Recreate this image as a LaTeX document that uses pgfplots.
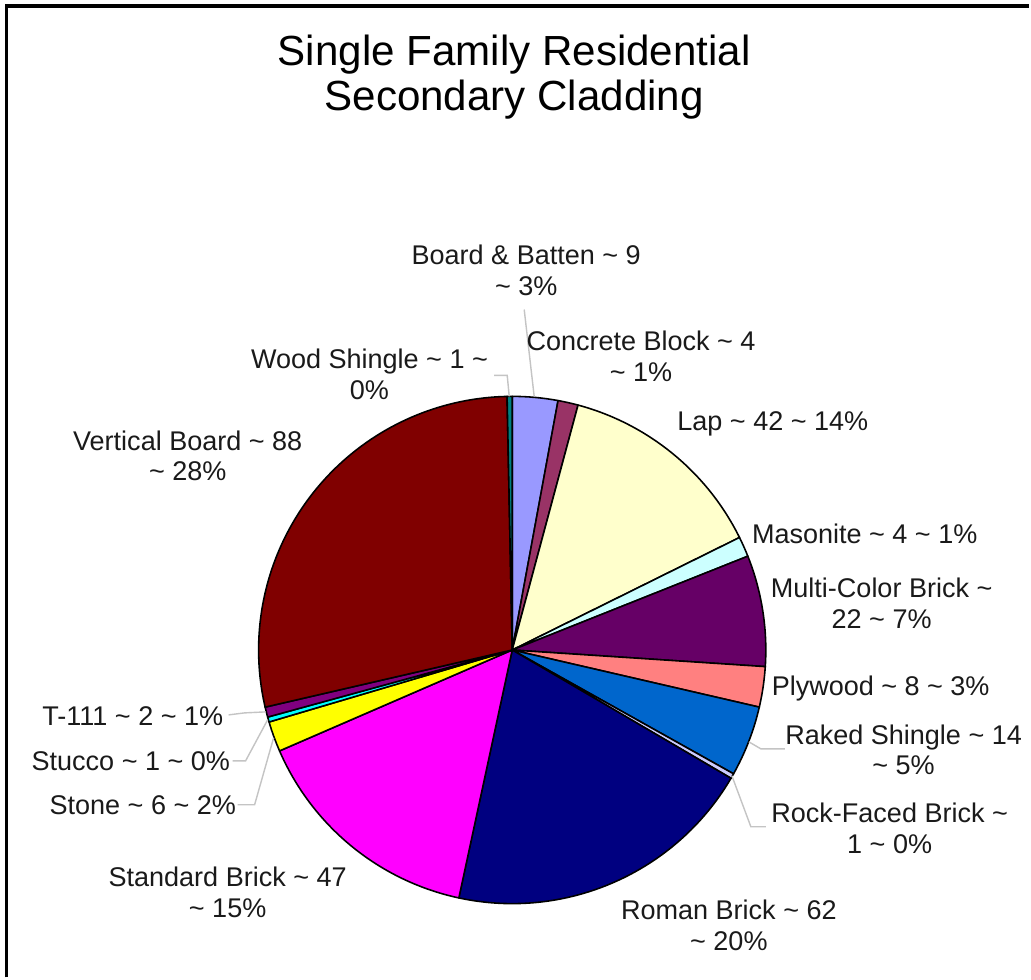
\documentclass[border=0pt]{standalone}
\usepackage{fontspec}
\setmainfont{Liberation Sans}
\usepackage{pgfplots}
\usepackage{pgfplotstable}
\pgfplotsset{compat=1.18}

% Excel 2003 series palette
\definecolor{bb}{HTML}{9999FF}
\definecolor{cb}{HTML}{993366}
\definecolor{lap}{HTML}{FFFFCC}
\definecolor{mas}{HTML}{CCFFFF}
\definecolor{mcb}{HTML}{660066}
\definecolor{ply}{HTML}{FF8080}
\definecolor{rks}{HTML}{0066CC}
\definecolor{rfb}{HTML}{CCCCFF}
\definecolor{rom}{HTML}{000080}
\definecolor{std}{HTML}{FF00FF}
\definecolor{stn}{HTML}{FFFF00}
\definecolor{stu}{HTML}{00FFFF}
\definecolor{tee}{HTML}{800080}
\definecolor{vb}{HTML}{800000}
\definecolor{ws}{HTML}{008080}
\definecolor{leader}{HTML}{C4C4C4}
\definecolor{txt}{HTML}{1A1A1A}

% slices, clockwise from 12 o'clock
\pgfplotstableread{
name       value col
Board      9     bb
Concrete   4     cb
Lap        42    lap
Masonite   4     mas
MultiColor 22    mcb
Plywood    8     ply
Raked      14    rks
RockFaced  1     rfb
Roman      62    rom
Standard   47    std
Stone      6     stn
Stucco     1     stu
T111       2     tee
Vertical   88    vb
Wood       1     ws
}\piedata

\newcommand\T{\textasciitilde}
\tikzset{lbl/.style={font=\fontsize{7.7}{8.8}\selectfont, align=center, inner sep=0pt, text=txt}}

\begin{document}
\begin{tikzpicture}
\begin{axis}[
    x=1cm, y=1cm,
    xmin=0, xmax=10.31, ymin=0, ymax=9.79,
    hide axis, clip=false,
  ]
\fill[white] (axis cs:0,0) rectangle (axis cs:10.31,9.79);
% frame (left and top edges only are in view)
\draw[line width=0.9pt] (axis cs:0.065,0) -- (axis cs:0.065,9.73) -- (axis cs:10.31,9.73);

% title
\node[font=\fontsize{12}{12.9}\selectfont, align=center, inner sep=0pt] at (axis cs:5.15,9.02)
  {Single Family Residential\\Secondary Cladding};

% pie
\pgfplotstablegetrowsof{\piedata}
\pgfmathtruncatemacro\nrows{\pgfplotsretval-1}
\def\total{0}
\pgfplotsforeachungrouped \i in {0,...,\nrows}{%
  \pgfplotstablegetelem{\i}{value}\of\piedata
  \pgfmathsetmacro\total{\total+\pgfplotsretval}%
}
\def\cum{0}
\pgfplotsforeachungrouped \i in {0,...,\nrows}{%
  \pgfplotstablegetelem{\i}{value}\of\piedata \let\v\pgfplotsretval
  \pgfplotstablegetelem{\i}{col}\of\piedata \let\c\pgfplotsretval
  \pgfmathsetmacro\a{90-\cum/\total*360}%
  \pgfmathsetmacro\b{90-(\cum+\v)/\total*360}%
  \edef\temp{\noexpand\filldraw[fill=\c, draw=black, line width=0.45pt, line join=round]
    (axis cs:5.13,3.28) -- ++(\a:2.54) arc[start angle=\a, end angle=\b, radius=2.54] -- cycle;}%
  \temp
  \pgfmathsetmacro\cum{\cum+\v}%
}

% leader lines
\begin{scope}[draw=leader, line width=0.4pt]
\draw (axis cs:4.95,6.03) -- (axis cs:5.08,6.03) -- (axis cs:5.10,5.82);
\draw (axis cs:5.25,6.69) -- (axis cs:5.35,5.82);
\draw (axis cs:7.50,2.36) -- (axis cs:7.62,2.29) -- (axis cs:7.86,2.29);
\draw (axis cs:7.33,2.02) -- (axis cs:7.52,1.51) -- (axis cs:7.67,1.51);
\draw (axis cs:2.29,2.63) -- (axis cs:2.45,2.65) -- (axis cs:2.66,2.66);
\draw (axis cs:2.33,2.17) -- (axis cs:2.46,2.17) -- (axis cs:2.68,2.58);
\draw (axis cs:2.38,1.73) -- (axis cs:2.55,1.73) -- (axis cs:2.74,2.40);
\end{scope}

% data labels
\node[lbl] at (axis cs:5.27,7.085) {Board \& Batten \T{} 9\\\T{} 3\%};
\node[lbl] at (axis cs:6.42,6.225) {Concrete Block \T{} 4\\\T{} 1\%};
\node[lbl] at (axis cs:3.70,6.04)  {Wood Shingle \T{} 1 \T{}\\0\%};
\node[lbl] at (axis cs:7.74,5.54)  {Lap \T{} 42 \T{} 14\%};
\node[lbl] at (axis cs:1.88,5.225) {Vertical Board \T{} 88\\\T{} 28\%};
\node[lbl] at (axis cs:8.66,4.44)  {Masonite \T{} 4 \T{} 1\%};
\node[lbl] at (axis cs:8.83,3.75)  {Multi-Color Brick \T{}\\22 \T{} 7\%};
\node[lbl] at (axis cs:8.82,2.89)  {Plywood \T{} 8 \T{} 3\%};
\node[lbl] at (axis cs:9.05,2.28)  {Raked Shingle \T{} 14\\\T{} 5\%};
\node[lbl] at (axis cs:8.91,1.495) {Rock-Faced Brick \T{}\\1 \T{} 0\%};
\node[lbl] at (axis cs:7.30,0.525) {Roman Brick \T{} 62\\\T{} 20\%};
\node[lbl] at (axis cs:2.28,0.85)  {Standard Brick \T{} 47\\\T{} 15\%};
\node[lbl] at (axis cs:1.33,2.62)  {T-111 \T{} 2 \T{} 1\%};
\node[lbl] at (axis cs:1.31,2.17)  {Stucco \T{} 1 \T{} 0\%};
\node[lbl] at (axis cs:1.43,1.73)  {Stone \T{} 6 \T{} 2\%};
\end{axis}
\end{tikzpicture}
\end{document}
